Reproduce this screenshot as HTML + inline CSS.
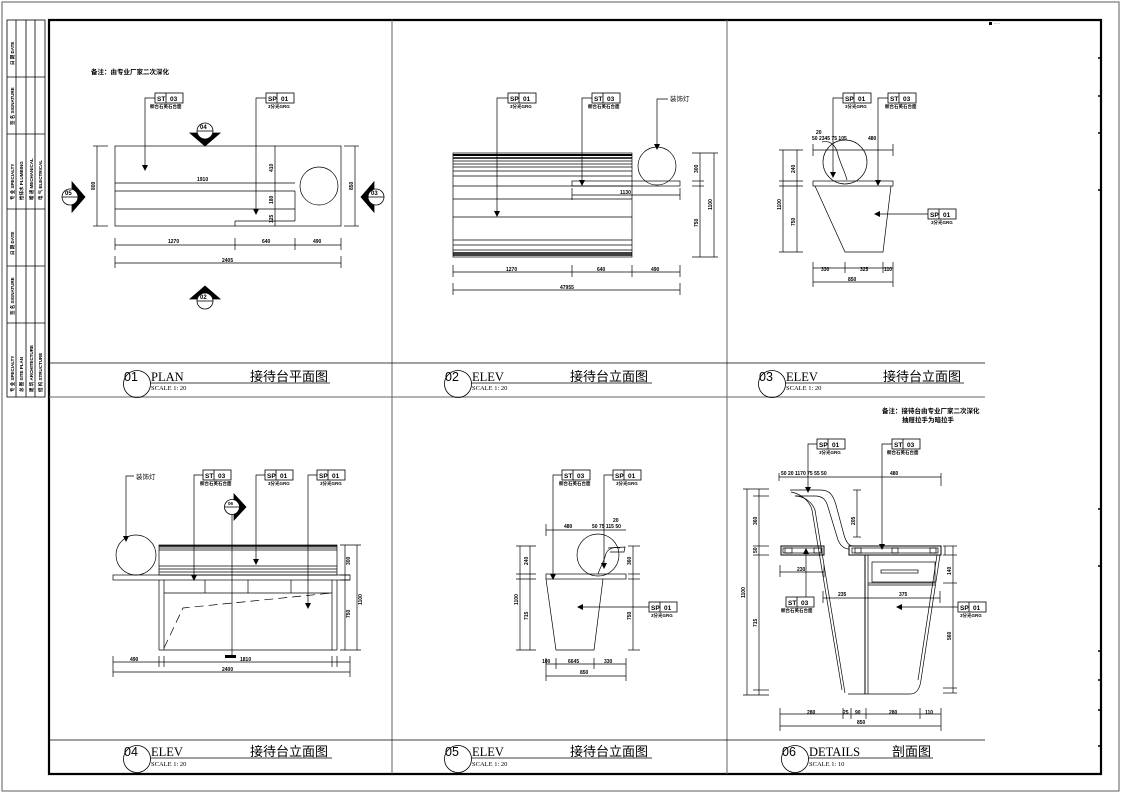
<!DOCTYPE html>
<html><head><meta charset="utf-8"><style>
html,body{margin:0;padding:0;background:#fff}
svg{display:block}
text{font-family:"Liberation Sans","Noto Sans CJK SC",sans-serif;fill:#000}
.s{font-family:"Liberation Serif","Noto Serif CJK SC",serif}
</style></head><body>
<svg width="1123" height="794" viewBox="0 0 1123 794" xmlns="http://www.w3.org/2000/svg">
<defs>
<marker id="a" markerWidth="6" markerHeight="6" refX="3" refY="3" orient="auto" markerUnits="userSpaceOnUse"><path d="M0,0L6,3L0,6z" fill="#000"/></marker>
</defs>
<rect x="0" y="0" width="1123" height="794" fill="#fff"/>
<!-- outer thin frame -->
<rect x="2" y="2" width="1117" height="789" fill="none" stroke="#777" stroke-width="1.2"/>
<!-- left strip -->
<g stroke="#000" stroke-width="0.8" fill="none">
<rect x="7" y="20" width="38" height="377"/>
<line x1="16" y1="20" x2="16" y2="397"/><line x1="26" y1="20" x2="26" y2="397"/><line x1="35" y1="20" x2="35" y2="397"/>
<line x1="7" y1="77" x2="45" y2="77"/><line x1="7" y1="134" x2="45" y2="134"/><line x1="7" y1="209" x2="45" y2="209"/><line x1="7" y1="266" x2="45" y2="266"/><line x1="7" y1="323" x2="45" y2="323"/>
</g>
<g font-size="4.5" font-weight="bold">
<text transform="translate(14,65) rotate(-90)">日 期 DATE</text>
<text transform="translate(14,125) rotate(-90)">签 名 SIGNATURE</text>
<text transform="translate(14,200) rotate(-90)">专 业 SPECIALTY</text>
<text transform="translate(23,200) rotate(-90)">给排水 PLUMBING</text>
<text transform="translate(33,200) rotate(-90)">暖 通 MECHANICAL</text>
<text transform="translate(42,200) rotate(-90)">电 气 ELECTRICAL</text>
<text transform="translate(14,255) rotate(-90)">日 期 DATE</text>
<text transform="translate(14,315) rotate(-90)">签 名 SIGNATURE</text>
<text transform="translate(14,392) rotate(-90)">专 业 SPECIALTY</text>
<text transform="translate(23,392) rotate(-90)">总 图 SITE PLAN</text>
<text transform="translate(33,392) rotate(-90)">建 筑 ARCHITECTURE</text>
<text transform="translate(42,392) rotate(-90)">结 构 STRUCTURE</text>
</g>
<!-- main frame -->
<g stroke="#000" fill="none">
<path d="M49,20 H1101 V774 H49 Z" stroke-width="2.2"/>
<line x1="49" y1="20" x2="1101" y2="20" stroke-width="1.5"/>
<line x1="392" y1="20" x2="392" y2="774" stroke="#666" stroke-width="1"/>
<line x1="727" y1="20" x2="727" y2="774" stroke="#666" stroke-width="1"/>
<line x1="49" y1="397" x2="985" y2="397" stroke="#666" stroke-width="1"/>
<line x1="49" y1="363" x2="985" y2="363" stroke-width="0.8"/>
<line x1="49" y1="740" x2="985" y2="740" stroke-width="0.8"/>
<line x1="1119" y1="10" x2="1119" y2="791" stroke="#777" stroke-width="1"/>
</g>
<g stroke="#000" stroke-width="1.5">
<line x1="1098" y1="58" x2="1101" y2="58"/><line x1="1098" y1="96" x2="1101" y2="96"/><line x1="1098" y1="133" x2="1101" y2="133"/><line x1="1098" y1="190" x2="1101" y2="190"/>
<line x1="1098" y1="509" x2="1101" y2="509"/><line x1="1098" y1="566" x2="1101" y2="566"/><line x1="1098" y1="651" x2="1101" y2="651"/><line x1="1098" y1="680" x2="1101" y2="680"/><line x1="1098" y1="710" x2="1101" y2="710"/><line x1="1098" y1="746" x2="1101" y2="746"/>
</g>
<rect x="989" y="22" width="3" height="3" fill="#000"/>
<text x="994" y="25" font-size="3.5" fill="#888">·····</text>

<!-- title bars -->
<g fill="none" stroke="#000" stroke-width="0.8">
<circle cx="137" cy="384" r="13.5"/><circle cx="458" cy="384" r="13.5"/><circle cx="772" cy="384" r="13.5"/>
<circle cx="137" cy="759" r="13.5"/><circle cx="458" cy="759" r="13.5"/><circle cx="795" cy="759" r="13.5"/>
<line x1="150" y1="383" x2="330" y2="383"/><line x1="471" y1="383" x2="652" y2="383"/><line x1="785" y1="383" x2="964" y2="383"/>
<line x1="150" y1="758" x2="332" y2="758"/><line x1="471" y1="758" x2="652" y2="758"/><line x1="808" y1="758" x2="933" y2="758"/>
</g>
<g font-size="12.5">
<text x="124" y="381">01</text><text x="445" y="381">02</text><text x="759" y="381">03</text>
<text x="124" y="756">04</text><text x="445" y="756">05</text><text x="782" y="756">06</text>
</g>
<g class="s" font-size="12.5">
<text class="s" x="151" y="381">PLAN</text><text class="s" x="472" y="381">ELEV</text><text class="s" x="786" y="381">ELEV</text>
<text class="s" x="151" y="756">ELEV</text><text class="s" x="472" y="756">ELEV</text><text class="s" x="809" y="756">DETAILS</text>
</g>
<g font-size="6.5">
<text class="s" x="151" y="390">SCALE 1: 20</text><text class="s" x="472" y="390">SCALE 1: 20</text><text class="s" x="786" y="390">SCALE 1: 20</text>
<text class="s" x="151" y="766">SCALE 1: 20</text><text class="s" x="472" y="766">SCALE 1: 20</text><text class="s" x="809" y="766">SCALE 1: 10</text>
</g>
<g font-size="13">
<text x="250" y="381">接待台平面图</text><text x="570" y="381">接待台立面图</text><text x="883" y="381">接待台立面图</text>
<text x="250" y="756">接待台立面图</text><text x="570" y="756">接待台立面图</text><text x="892" y="756">剖面图</text>
</g>

<!-- ============ PANEL 1 PLAN ============ -->
<text x="91" y="74" font-size="6.5" font-weight="bold">备注：由专业厂家二次深化</text>
<g stroke="#000" stroke-width="0.7" fill="none">
<rect x="115" y="146" width="226" height="80"/>
<line x1="115" y1="183" x2="295" y2="183"/>
<line x1="115" y1="191" x2="295" y2="191"/>
<line x1="115" y1="209" x2="295" y2="209"/>
<line x1="295" y1="191" x2="295" y2="221"/>
<line x1="235" y1="221" x2="295" y2="221"/><line x1="235" y1="221" x2="235" y2="226"/>
<line x1="275" y1="146" x2="275" y2="226"/>
<circle cx="319" cy="186" r="19"/>
<line x1="97" y1="146" x2="97" y2="226"/><line x1="93" y1="146" x2="108" y2="146"/><line x1="93" y1="226" x2="108" y2="226"/>
<line x1="355" y1="146" x2="355" y2="226"/><line x1="344" y1="146" x2="359" y2="146"/><line x1="344" y1="226" x2="359" y2="226"/>
<line x1="115" y1="245" x2="341" y2="245"/><line x1="115" y1="263" x2="341" y2="263"/>
<line x1="115" y1="238" x2="115" y2="250"/><line x1="235" y1="238" x2="235" y2="250"/><line x1="295" y1="238" x2="295" y2="250"/><line x1="341" y1="238" x2="341" y2="250"/>
<line x1="115" y1="256" x2="115" y2="268"/><line x1="341" y1="256" x2="341" y2="268"/>
<path d="M155,98 H145 V168" marker-end="url(#a)"/>
<path d="M266,98 H256 V212" marker-end="url(#a)"/>
</g>
<g font-size="5" font-weight="bold">
<text x="197" y="181">1910</text><text x="168" y="243">1270</text><text x="262" y="243">640</text><text x="313" y="243">490</text><text x="222" y="262">2405</text>
<text transform="translate(95,190) rotate(-90)">800</text><text transform="translate(353,190) rotate(-90)">850</text>
<text transform="translate(273,172) rotate(-90)">410</text><text transform="translate(273,204) rotate(-90)">180</text><text transform="translate(273,223) rotate(-90)">125</text>
</g>
<!-- tags -->
<g stroke="#000" stroke-width="0.8" fill="#fff">
<rect x="155" y="93" width="28" height="10"/><line x1="166" y1="93" x2="166" y2="103"/>
<rect x="266" y="93" width="28" height="10"/><line x1="277" y1="93" x2="277" y2="103"/>
</g>
<g font-size="6.5" font-weight="bold"><text x="157" y="101">ST</text><text x="170" y="101">03</text><text x="268" y="101">SP</text><text x="281" y="101">01</text></g>
<g font-size="4.5" font-weight="bold"><text x="150" y="108">橱台石英石台面</text><text x="268" y="108">3分光GRG</text></g>
<!-- section markers -->
<g stroke="#000" stroke-width="0.8" fill="#fff">
<path d="M190,133 H220 L205,146 Z" fill="#000"/><circle cx="205" cy="131" r="8"/><line x1="197" y1="131" x2="213" y2="131"/>
<path d="M190,299 H220 L205,286 Z" fill="#000"/><circle cx="205" cy="301" r="8"/><line x1="197" y1="301" x2="213" y2="301"/>
<path d="M72,182 V212 L85,197 Z" fill="#000"/><circle cx="70" cy="197" r="8"/><line x1="62" y1="197" x2="78" y2="197"/>
<path d="M374,182 V212 L361,197 Z" fill="#000"/><circle cx="376" cy="197" r="8"/><line x1="368" y1="197" x2="384" y2="197"/>
</g>
<g font-size="6" font-weight="bold"><text x="200" y="129">04</text><text x="200" y="299">02</text><text x="65" y="195">05</text><text x="371" y="195">03</text></g>

<!-- ============ PANEL 2 ELEV ============ -->
<g stroke="#000" stroke-width="0.7" fill="none">
<rect x="453" y="153" width="179" height="104"/>
<line x1="453" y1="155" x2="632" y2="155" stroke-width="2"/>
<line x1="453" y1="158" x2="632" y2="158" stroke-width="1.5"/>
<line x1="453" y1="161" x2="632" y2="161"/>
<line x1="453" y1="164" x2="632" y2="164"/>
<line x1="453" y1="167" x2="632" y2="167"/>
<line x1="453" y1="171" x2="632" y2="171"/>
<line x1="453" y1="176" x2="632" y2="176"/>
<line x1="453" y1="186" x2="632" y2="186"/>
<line x1="453" y1="199" x2="632" y2="199"/>
<line x1="453" y1="217" x2="632" y2="217"/>
<line x1="453" y1="240" x2="632" y2="240"/>
<line x1="453" y1="245" x2="632" y2="245"/>
<line x1="453" y1="250" x2="632" y2="250"/>
<line x1="453" y1="253" x2="632" y2="253" stroke-width="1.5"/>
<line x1="453" y1="255" x2="632" y2="255" stroke-width="1.5"/>
<rect x="572" y="181" width="108" height="5"/>
<circle cx="657" cy="166" r="19"/>
<line x1="572" y1="195" x2="680" y2="195"/><line x1="572" y1="188" x2="572" y2="200"/><line x1="680" y1="188" x2="680" y2="200"/>
<line x1="700" y1="153" x2="700" y2="257"/><line x1="714" y1="153" x2="714" y2="257"/>
<line x1="692" y1="153" x2="718" y2="153"/><line x1="692" y1="181" x2="704" y2="181"/><line x1="692" y1="186" x2="704" y2="186"/><line x1="692" y1="257" x2="718" y2="257"/>
<line x1="453" y1="272" x2="680" y2="272"/><line x1="453" y1="290" x2="680" y2="290"/>
<line x1="453" y1="265" x2="453" y2="277"/><line x1="572" y1="265" x2="572" y2="277"/><line x1="632" y1="265" x2="632" y2="277"/><line x1="680" y1="265" x2="680" y2="277"/>
<line x1="453" y1="283" x2="453" y2="295"/><line x1="680" y1="283" x2="680" y2="295"/>
<path d="M508,98 H497 V214" marker-end="url(#a)"/>
<path d="M592,98 H582 V183" marker-end="url(#a)"/>
<path d="M668,99 H657 V147" marker-end="url(#a)"/>
</g>
<g stroke="#000" stroke-width="0.8" fill="#fff">
<rect x="508" y="93" width="28" height="10"/><line x1="519" y1="93" x2="519" y2="103"/>
<rect x="592" y="93" width="28" height="10"/><line x1="603" y1="93" x2="603" y2="103"/>
</g>
<g font-size="6.5" font-weight="bold"><text x="510" y="101">SP</text><text x="523" y="101">01</text><text x="594" y="101">ST</text><text x="607" y="101">03</text></g>
<g font-size="4.5" font-weight="bold"><text x="510" y="108">3分光GRG</text><text x="588" y="108">橱台石英石台面</text></g>
<text x="670" y="101" font-size="6.5">装饰灯</text>
<g font-size="5" font-weight="bold">
<text x="620" y="194">1130</text><text x="506" y="271">1270</text><text x="597" y="271">640</text><text x="651" y="271">490</text><text x="560" y="289">47955</text>
<text transform="translate(698,173) rotate(-90)">300</text><text transform="translate(698,227) rotate(-90)">750</text><text transform="translate(712,210) rotate(-90)">1100</text>
</g>

<!-- ============ PANEL 3 ELEV ============ -->
<g stroke="#000" stroke-width="0.7" fill="none">
<rect x="813" y="181" width="80" height="5"/>
<path d="M815,186 L845,252 H883 L891,186"/>
<circle cx="845" cy="162" r="22"/>
<path d="M822,142 C830,140 836,145 838,155 C841,165 845,172 847,180"/>
<line x1="783" y1="150" x2="783" y2="252"/><line x1="797" y1="150" x2="797" y2="252"/>
<line x1="779" y1="150" x2="803" y2="150"/><line x1="779" y1="181" x2="803" y2="181"/><line x1="779" y1="186" x2="803" y2="186"/><line x1="779" y1="252" x2="803" y2="252"/>
<line x1="813" y1="150" x2="893" y2="150"/><line x1="893" y1="144" x2="893" y2="156"/><line x1="813" y1="144" x2="813" y2="156"/>
<line x1="813" y1="268" x2="893" y2="268"/><line x1="813" y1="282" x2="893" y2="282"/>
<line x1="813" y1="262" x2="813" y2="287"/><line x1="893" y1="262" x2="893" y2="287"/><line x1="845" y1="262" x2="845" y2="273"/><line x1="883" y1="262" x2="883" y2="273"/>
<path d="M843,98 H833 V175" marker-end="url(#a)"/>
<path d="M888,98 H878 V183" marker-end="url(#a)"/>
<path d="M928,214 H877" marker-end="url(#a)"/>
</g>
<g stroke="#000" stroke-width="0.8" fill="#fff">
<rect x="843" y="93" width="28" height="10"/><line x1="854" y1="93" x2="854" y2="103"/>
<rect x="888" y="93" width="28" height="10"/><line x1="899" y1="93" x2="899" y2="103"/>
<rect x="928" y="209" width="28" height="10"/><line x1="939" y1="209" x2="939" y2="219"/>
</g>
<g font-size="6.5" font-weight="bold"><text x="845" y="101">SP</text><text x="858" y="101">01</text><text x="890" y="101">ST</text><text x="903" y="101">03</text><text x="930" y="217">SP</text><text x="943" y="217">01</text></g>
<g font-size="4.5" font-weight="bold"><text x="845" y="108">3分光GRG</text><text x="885" y="108">橱台石英石台面</text><text x="931" y="224">3分光GRG</text></g>
<g font-size="5" font-weight="bold">
<text x="816" y="134">20</text><text x="812" y="140">50 2345 75 105</text><text x="868" y="140">480</text>
<text x="821" y="271">330</text><text x="860" y="271">325</text><text x="884" y="271">110</text><text x="848" y="281">850</text>
<text transform="translate(795,173) rotate(-90)">240</text><text transform="translate(795,226) rotate(-90)">750</text><text transform="translate(781,210) rotate(-90)">1100</text>
</g>

<!-- ============ PANEL 4 ELEV ============ -->
<g stroke="#000" stroke-width="0.7" fill="none">
<circle cx="136" cy="555" r="20"/>
<rect x="113" y="575" width="237" height="5"/>
<rect x="159" y="545" width="178" height="30"/>
<line x1="159" y1="546" x2="337" y2="546" stroke-width="1.5"/>
<line x1="159" y1="548" x2="337" y2="548"/><line x1="159" y1="550" x2="337" y2="550"/>
<line x1="159" y1="566" x2="337" y2="566"/><line x1="159" y1="569" x2="337" y2="569"/><line x1="159" y1="572" x2="337" y2="572"/>
<line x1="159" y1="580" x2="159" y2="650"/><line x1="164" y1="580" x2="164" y2="650"/>
<line x1="332" y1="580" x2="332" y2="650"/><line x1="337" y1="580" x2="337" y2="650"/>
<line x1="159" y1="650" x2="337" y2="650"/>
<line x1="164" y1="593" x2="332" y2="593"/>
<line x1="205" y1="580" x2="205" y2="593"/><line x1="248" y1="580" x2="248" y2="593"/><line x1="291" y1="580" x2="291" y2="593"/>
<path d="M164,648 L183,608 L332,593" stroke-dasharray="9,5"/>
<line x1="232" y1="513" x2="232" y2="655"/>
<line x1="113" y1="662" x2="350" y2="662"/><line x1="113" y1="672" x2="350" y2="672"/>
<line x1="113" y1="656" x2="113" y2="677"/><line x1="159" y1="656" x2="159" y2="667"/><line x1="164" y1="656" x2="164" y2="667"/><line x1="332" y1="656" x2="332" y2="667"/><line x1="337" y1="656" x2="337" y2="667"/><line x1="350" y1="656" x2="350" y2="677"/>
<line x1="345" y1="545" x2="345" y2="650"/><line x1="357" y1="545" x2="357" y2="650"/>
<line x1="340" y1="545" x2="361" y2="545"/><line x1="340" y1="575" x2="350" y2="575"/><line x1="340" y1="580" x2="350" y2="580"/><line x1="340" y1="650" x2="361" y2="650"/>
<path d="M134,476 H126 V539" marker-end="url(#a)"/>
<path d="M203,475 H194 V578" marker-end="url(#a)"/>
<path d="M265,475 H256 V562" marker-end="url(#a)"/>
<path d="M317,475 H308 V606" marker-end="url(#a)"/>
</g>
<rect x="225" y="655" width="11" height="3" fill="#000"/>
<g stroke="#000" stroke-width="0.8" fill="#fff">
<path d="M234,494 V520 L246,507 Z" fill="#000"/><circle cx="232" cy="507" r="7.5"/><line x1="225" y1="507" x2="239" y2="507"/>
<rect x="203" y="470" width="28" height="10"/><line x1="214" y1="470" x2="214" y2="480"/>
<rect x="265" y="470" width="28" height="10"/><line x1="276" y1="470" x2="276" y2="480"/>
<rect x="317" y="470" width="28" height="10"/><line x1="328" y1="470" x2="328" y2="480"/>
</g>
<g font-size="6.5" font-weight="bold"><text x="205" y="478">ST</text><text x="218" y="478">03</text><text x="267" y="478">SP</text><text x="280" y="478">01</text><text x="319" y="478">SP</text><text x="332" y="478">01</text></g>
<g font-size="4.5" font-weight="bold"><text x="200" y="485">橱台石英石台面</text><text x="268" y="485">3分光GRG</text><text x="320" y="485">3分光GRG</text><text x="228" y="505">06</text></g>
<text x="136" y="479" font-size="6.5">装饰灯</text>
<g font-size="5" font-weight="bold">
<text x="130" y="661">490</text><text x="240" y="661">1810</text><text x="222" y="671">2400</text>
<text transform="translate(350,565) rotate(-90)">300</text><text transform="translate(350,618) rotate(-90)">750</text><text transform="translate(362,605) rotate(-90)">1100</text>
</g>

<!-- ============ PANEL 5 ELEV ============ -->
<g stroke="#000" stroke-width="0.7" fill="none">
<circle cx="598" cy="555" r="21"/>
<rect x="546" y="574" width="80" height="5"/>
<path d="M546,579 L556,650 H594 L603,579"/>
<path d="M620,548 C612,546 606,550 605,557 C603,563 600,568 598,574"/>
<path d="M608,548 L625,547 L624,552 L610,552"/>
<line x1="520" y1="546" x2="520" y2="650"/><line x1="530" y1="546" x2="530" y2="650"/>
<line x1="516" y1="546" x2="536" y2="546"/><line x1="516" y1="574" x2="536" y2="574"/><line x1="516" y1="579" x2="536" y2="579"/><line x1="516" y1="650" x2="536" y2="650"/>
<line x1="633" y1="546" x2="633" y2="650"/><line x1="628" y1="546" x2="640" y2="546"/><line x1="628" y1="574" x2="640" y2="574"/><line x1="628" y1="579" x2="640" y2="579"/><line x1="628" y1="650" x2="640" y2="650"/>
<line x1="546" y1="530" x2="626" y2="530"/><line x1="546" y1="524" x2="546" y2="536"/>
<line x1="546" y1="664" x2="626" y2="664"/><line x1="546" y1="676" x2="626" y2="676"/>
<line x1="546" y1="658" x2="546" y2="681"/><line x1="556" y1="658" x2="556" y2="669"/><line x1="594" y1="658" x2="594" y2="669"/><line x1="626" y1="658" x2="626" y2="681"/>
<path d="M562,475 H553 V577" marker-end="url(#a)"/>
<path d="M613,475 H604 V566" marker-end="url(#a)"/>
<path d="M649,607 H580" marker-end="url(#a)"/>
</g>
<g stroke="#000" stroke-width="0.8" fill="#fff">
<rect x="562" y="470" width="28" height="10"/><line x1="573" y1="470" x2="573" y2="480"/>
<rect x="613" y="470" width="28" height="10"/><line x1="624" y1="470" x2="624" y2="480"/>
<rect x="649" y="602" width="28" height="10"/><line x1="660" y1="602" x2="660" y2="612"/>
</g>
<g font-size="6.5" font-weight="bold"><text x="564" y="478">ST</text><text x="577" y="478">03</text><text x="615" y="478">SP</text><text x="628" y="478">01</text><text x="651" y="610">SP</text><text x="664" y="610">01</text></g>
<g font-size="4.5" font-weight="bold"><text x="559" y="485">橱台石英石台面</text><text x="616" y="485">3分光GRG</text><text x="651" y="617">3分光GRG</text></g>
<g font-size="5" font-weight="bold">
<text x="564" y="528">480</text><text x="592" y="528">50 75 115 50</text><text x="613" y="522">20</text>
<text x="542" y="663">100</text><text x="568" y="663">6645</text><text x="604" y="663">330</text><text x="580" y="674">850</text>
<text transform="translate(528,565) rotate(-90)">240</text><text transform="translate(528,620) rotate(-90)">715</text><text transform="translate(518,605) rotate(-90)">1100</text>
<text transform="translate(631,565) rotate(-90)">360</text><text transform="translate(631,620) rotate(-90)">750</text>
</g>

<!-- ============ PANEL 6 DETAILS ============ -->
<text x="882" y="413" font-size="6.5" font-weight="bold">备注：接待台由专业厂家二次深化</text>
<text x="902" y="422" font-size="6.5" font-weight="bold">抽屉拉手为暗拉手</text>
<g stroke="#000" stroke-width="0.7" fill="none">
<path d="M790,490 H820 C830,490 833,495 836,505 L844,535 C846,542 849,546 853,546"/>
<path d="M795,496 H815 C823,496 826,500 828,507 L838,540 C840,545 844,549 849,549 V553"/>
<path d="M795,496 C804,496 812,502 815,510 L845,693"/>
<path d="M791,492 C802,494 810,502 812,510 L842,690"/>
<rect x="849" y="546" width="92" height="9" stroke-width="1"/>
<rect x="852" y="548" width="86" height="5"/>
<rect x="855" y="548" width="6" height="5"/><rect x="892" y="548" width="6" height="5"/><rect x="930" y="548" width="6" height="5"/>
<rect x="781" y="546" width="43" height="9" stroke-width="1"/>
<rect x="783" y="548" width="39" height="5"/>
<rect x="785" y="548" width="7" height="5"/><rect x="814" y="548" width="7" height="5"/>
<line x1="865" y1="555" x2="865" y2="694" stroke-width="1"/><line x1="868" y1="555" x2="868" y2="694"/>
<path d="M940,555 L921,680 C920,688 917,694 910,694 H848"/>
<path d="M937,555 L918,680"/>
<rect x="872" y="562" width="63" height="20"/>
<line x1="868" y1="583" x2="935" y2="583"/><line x1="868" y1="585" x2="935" y2="585"/>
<rect x="881" y="570" width="37" height="3"/>
<line x1="747" y1="489" x2="747" y2="695"/><line x1="759" y1="489" x2="759" y2="695"/>
<line x1="743" y1="489" x2="769" y2="489"/><line x1="753" y1="496" x2="769" y2="496"/><line x1="753" y1="546" x2="769" y2="546"/><line x1="753" y1="555" x2="769" y2="555"/><line x1="753" y1="690" x2="769" y2="690"/><line x1="743" y1="695" x2="769" y2="695"/>
<line x1="945" y1="546" x2="945" y2="555"/><line x1="953" y1="546" x2="953" y2="693"/>
<line x1="943" y1="546" x2="957" y2="546"/><line x1="943" y1="555" x2="957" y2="555"/><line x1="943" y1="583" x2="957" y2="583"/><line x1="943" y1="688" x2="957" y2="688"/><line x1="943" y1="693" x2="957" y2="693"/>
<line x1="779" y1="477" x2="941" y2="477"/><line x1="779" y1="473" x2="779" y2="481"/><line x1="941" y1="473" x2="941" y2="486"/>
<line x1="857" y1="490" x2="857" y2="537"/><line x1="853" y1="490" x2="861" y2="490"/><line x1="853" y1="537" x2="861" y2="537"/>
<line x1="780" y1="572" x2="824" y2="572"/><line x1="780" y1="565" x2="780" y2="577"/><line x1="824" y1="565" x2="824" y2="577"/>
<line x1="823" y1="598" x2="940" y2="598"/><line x1="823" y1="591" x2="823" y2="603"/><line x1="940" y1="591" x2="940" y2="603"/>
<line x1="780" y1="714" x2="941" y2="714"/><line x1="780" y1="726" x2="941" y2="726"/>
<line x1="780" y1="708" x2="780" y2="731"/><line x1="843" y1="708" x2="843" y2="719"/><line x1="851" y1="708" x2="851" y2="719"/><line x1="866" y1="708" x2="866" y2="719"/><line x1="920" y1="708" x2="920" y2="719"/><line x1="941" y1="708" x2="941" y2="731"/>
<path d="M817,444 H808 V490" marker-end="url(#a)"/>
<path d="M892,444 H882 V547" marker-end="url(#a)"/>
<path d="M806,598 V551" marker-end="url(#a)"/>
<path d="M958,607 H899" marker-end="url(#a)"/>
</g>
<g stroke="#000" stroke-width="0.8" fill="#fff">
<rect x="817" y="439" width="28" height="10"/><line x1="828" y1="439" x2="828" y2="449"/>
<rect x="892" y="439" width="28" height="10"/><line x1="903" y1="439" x2="903" y2="449"/>
<rect x="786" y="597" width="28" height="10"/><line x1="797" y1="597" x2="797" y2="607"/>
<rect x="958" y="602" width="28" height="10"/><line x1="969" y1="602" x2="969" y2="612"/>
</g>
<g font-size="6.5" font-weight="bold"><text x="819" y="447">SP</text><text x="832" y="447">01</text><text x="894" y="447">ST</text><text x="907" y="447">03</text><text x="788" y="605">ST</text><text x="801" y="605">03</text><text x="960" y="610">SP</text><text x="973" y="610">01</text></g>
<g font-size="4.5" font-weight="bold"><text x="819" y="454">3分光GRG</text><text x="887" y="454">橱台石英石台面</text><text x="781" y="612">橱台石英石台面</text><text x="960" y="617">3分光GRG</text></g>
<g font-size="5" font-weight="bold">
<text x="781" y="475">50 20  1170  75  55  50</text><text x="890" y="475">480</text>
<text x="797" y="571">230</text><text x="838" y="596">235</text><text x="899" y="596">375</text>
<text x="807" y="714">280</text><text x="843" y="714">25</text><text x="855" y="714">90</text><text x="889" y="714">280</text><text x="925" y="714">110</text><text x="857" y="724">850</text>
<text transform="translate(745,598) rotate(-90)">1100</text><text transform="translate(757,525) rotate(-90)">360</text><text transform="translate(757,553) rotate(-90)">50</text><text transform="translate(757,627) rotate(-90)">715</text>
<text transform="translate(951,640) rotate(-90)">560</text><text transform="translate(951,575) rotate(-90)">140</text><text transform="translate(855,525) rotate(-90)">205</text>
</g>
</svg>
</body></html>
